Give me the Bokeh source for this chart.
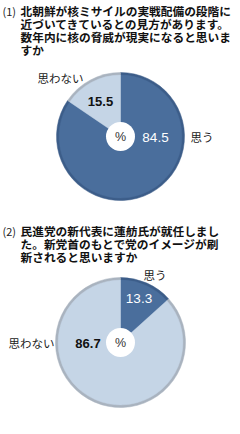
import math
from bokeh.plotting import figure
from bokeh.models import Range1d, ColumnDataSource
from bokeh.core.properties import value
from bokeh.embed import file_html
from bokeh.resources import INLINE

# ---- data ----
q1_title = ["北朝鮮が核ミサイルの実戦配備の段階に",
            "近づいてきているとの見方があります。",
            "数年内に核の脅威が現実になると思いま",
            "すか"]
q1_labels = ["思う", "思わない"]
q1_values = [84.5, 15.5]

q2_title = ["民進党の新代表に蓮舫氏が就任しまし",
            "た。新党首のもとで党のイメージが刷",
            "新されると思いますか"]
q2_labels = ["思う", "思わない"]
q2_values = [13.3, 86.7]

# ---- style ----
W, H = 240, 434
FILL = ["#4a6e9c", "#c5d5e6"]
EDGE = ["#3c5d89", "#a9b3bf"]
CJK = value("Noto Sans CJK JP")
NUM = value("Liberation Sans")

p = figure(width=W, height=H, x_range=Range1d(0, W), y_range=Range1d(0, H),
           output_backend="svg", toolbar_location=None, min_border=0)
p.axis.visible = False
p.grid.visible = False
p.outline_line_color = None
p.background_fill_color = "white"


def Y(sy):
    return H - sy


def pie(cx, cy, r, values):
    total = sum(values)
    starts, ends = [], []
    acc = 0.0
    for v in values:
        starts.append(math.pi / 2 - 2 * math.pi * acc / total)
        acc += v
        ends.append(math.pi / 2 - 2 * math.pi * acc / total)
    src = ColumnDataSource(dict(x=[cx] * len(values), y=[Y(cy)] * len(values),
                                s=starts, e=ends, fill=FILL, edge=EDGE))
    p.wedge(x="x", y="y", radius=r, start_angle="s", end_angle="e",
            direction="clock", fill_color="edge", line_color="edge",
            line_width=0.5, source=src)
    p.wedge(x="x", y="y", radius=r - 2.6, start_angle="s", end_angle="e",
            direction="clock", fill_color="fill", line_color="fill",
            line_width=0.5, source=src)
    p.scatter([cx], [Y(cy)], size=29, marker="circle", fill_color="white",
              line_color=None)
    p.text([cx], [Y(cy)], text=["%"], text_font=NUM, text_font_size="12.5px",
           text_color="#333333", text_align="center", text_baseline="middle")


def title(num, lines, y0, dy):
    p.text([2], [Y(y0)], text=[num], text_font=CJK, text_font_size="11px",
           text_color="#222222", text_align="left", text_baseline="middle")
    p.text([20] * len(lines), [Y(y0 + i * dy) for i in range(len(lines))],
           text=lines, text_font=CJK, text_font_size="11.7px",
           text_font_style="bold", text_color="#111111",
           text_align="left", text_baseline="middle")


def label(x, y, t, color="#222222", bold=False, font=CJK, size="11.5px",
          align="left"):
    p.text([x], [Y(y)], text=[t], text_font=font, text_font_size=size,
           text_font_style="bold" if bold else "normal", text_color=color,
           text_align=align, text_baseline="middle")


# question 1
title("(1)", q1_title, 10, 12.9)
pie(120, 136, 64, q1_values)
label(37, 77, q1_labels[1])
label(190, 136, q1_labels[0])
label(155, 136.5, f"{q1_values[0]:.1f}", color="white", font=NUM,
      size="13.5px", align="center")
label(100, 100.5, f"{q1_values[1]:.1f}", color="#111111", bold=True,
      font=NUM, size="13px", align="center")

# question 2
title("(2)", q2_title, 230, 12.9)
pie(120, 342, 65, q2_values)
label(143, 274, q2_labels[0])
label(8, 342, q2_labels[1])
label(138.5, 298, f"{q2_values[0]:.1f}", color="white", font=NUM,
      size="13.5px", align="center")
label(87.5, 342.5, f"{q2_values[1]:.1f}", color="#111111", bold=True,
      font=NUM, size="13px", align="center")

open("out.html", "w").write(file_html(p, INLINE))
